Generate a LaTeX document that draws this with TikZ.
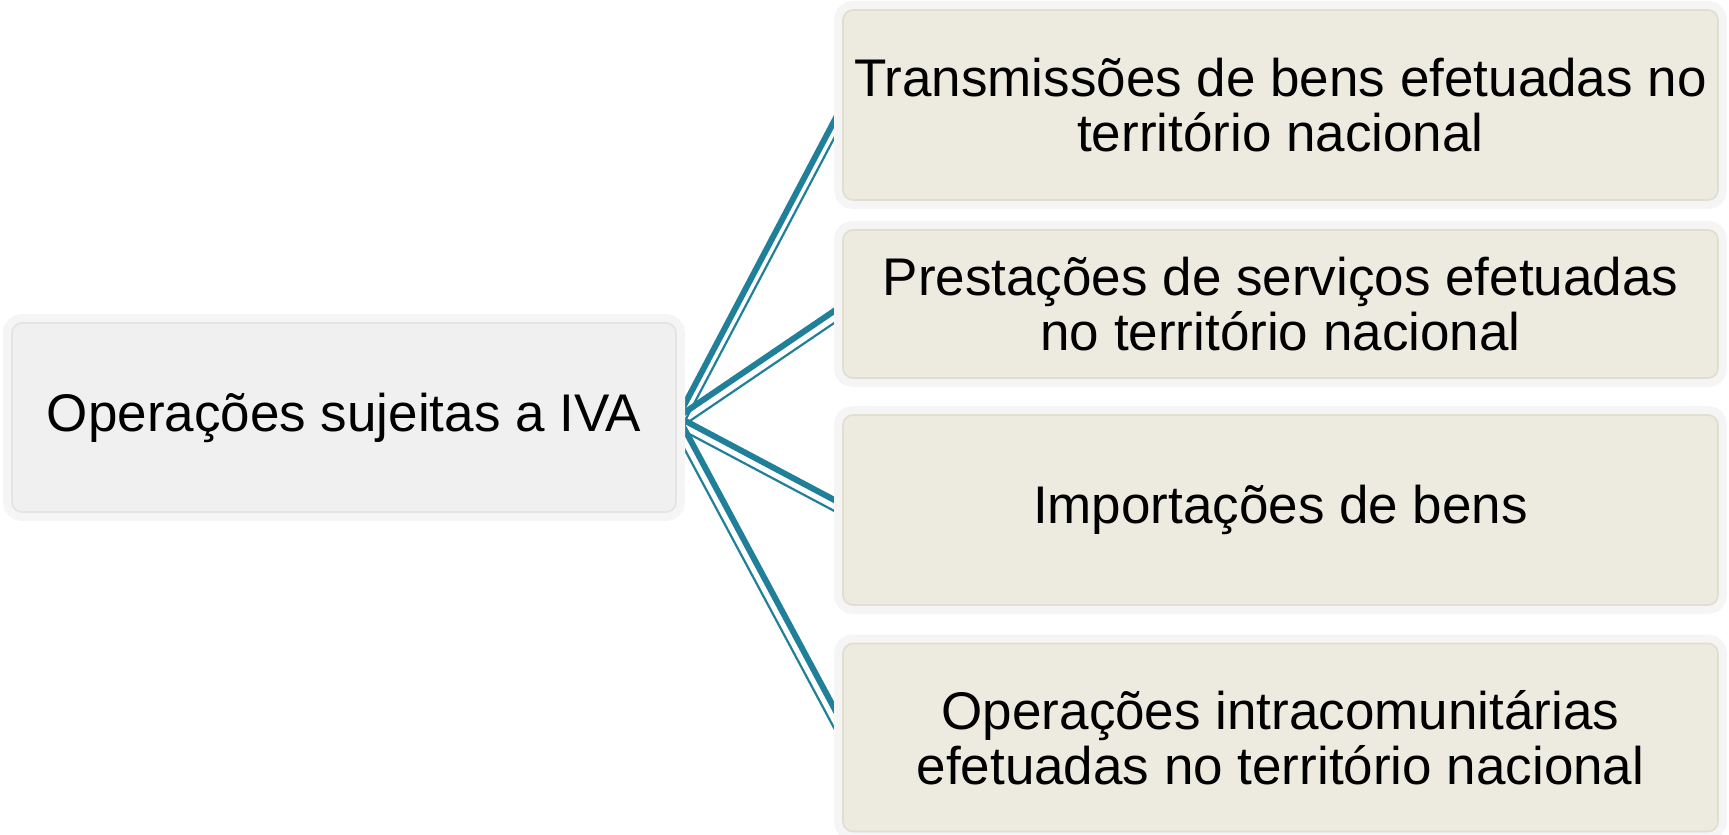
\documentclass[tikz,border=0pt]{standalone}
\usepackage{fontspec}
\setmainfont{Liberation Sans}
\usepackage{xcolor}
\usetikzlibrary{calc,positioning}

\definecolor{linkteal}{RGB}{33,128,153}
\definecolor{hubfill}{RGB}{240,240,240}
\definecolor{hubline}{RGB}{228,228,228}
\definecolor{leaffill}{RGB}{237,235,224}
\definecolor{leafline}{RGB}{226,222,206}
\definecolor{halo}{RGB}{245,245,245}

\tikzset{
  hubbox/.style = {rounded corners=5pt, fill=hubfill, draw=hubline, line width=0.8pt,
    preaction={draw=halo, line width=9pt}, inner sep=0pt, align=center,
    minimum width=332pt, minimum height=94.5pt,
    font=\fontsize{26.5pt}{27.5pt}\selectfont},
  leafbox/.style = {hubbox, fill=leaffill, draw=leafline, minimum width=437.5pt},
  thicklink/.style = {draw=linkteal, line width=3pt},
  thinlink/.style = {draw=linkteal, line width=1.1pt}
}

\begin{document}
\begin{tikzpicture}[x=0.5pt, y=-0.5pt]
		\useasboundingbox (0,0) rectangle (1729,835);
		% connectors first, the boxes cover their ends
		\coordinate (hub) at (678,417);
		\coordinate (e1) at (840,110);
		\coordinate (e2) at (840,307);
		\coordinate (e3) at (840,503);
		\coordinate (e4) at (840,719);
		\foreach \e/\s in {e1/-8.5pt,e2/-6pt,e3/-5.5pt,e4/-10pt} {
		\draw[thicklink] (hub) -- (\e);
		\draw[thinlink] ([yshift=\s]hub) -- ([yshift=\s]\e);
		}
		% central box
		\node[hubbox] (ops) at (344,417.5) {Operações sujeitas a IVA};
		% the four kinds of operation
		\node[leafbox, minimum height=95pt] (trans) at (1280.5,105) {Transmissões de bens efetuadas no\\território nacional};
		\node[leafbox, minimum height=74pt] (prest) at (1280.5,304) {Prestações de serviços efetuadas\\no território nacional};
		\node[leafbox, minimum height=95pt] (import) at (1280.5,510) {Importações de bens};
		\node[leafbox, minimum height=94pt] (intra) at (1280.5,737.5) {Operações intracomunitárias\\efetuadas no território nacional};
		\end{tikzpicture}
\end{document}
